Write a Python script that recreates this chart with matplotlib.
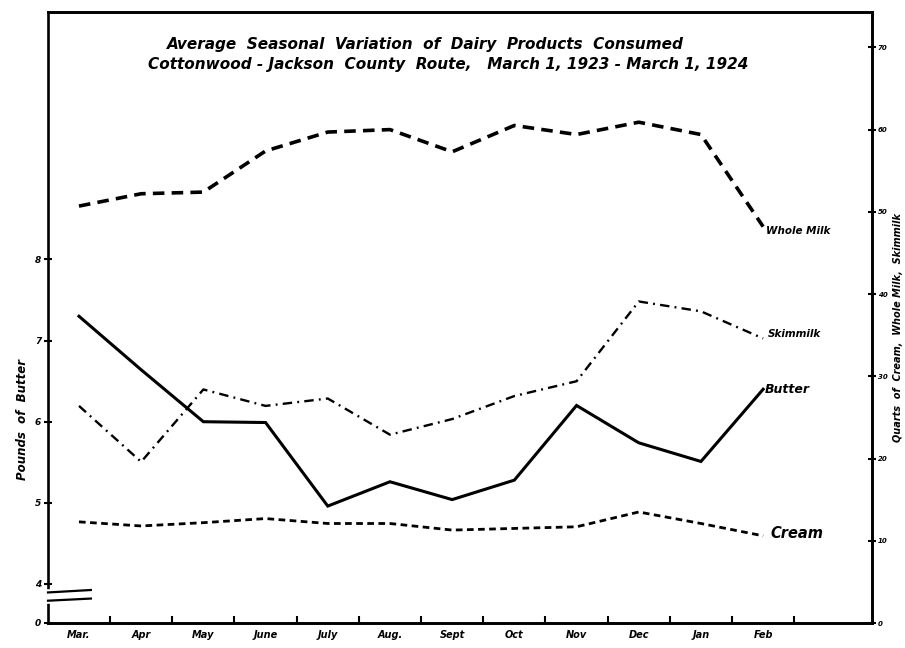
import matplotlib
matplotlib.use("Agg")
import matplotlib.pyplot as plt
import numpy as np

months = ["Mar.", "Apr", "May", "June", "July", "Aug.", "Sept", "Oct", "Nov", "Dec", "Jan", "Feb"]

# pounds of butter (left scale)
butter = [7.30, 6.64, 6.00, 5.99, 4.96, 5.26, 5.04, 5.28, 6.20, 5.74, 5.51, 6.40]
# quarts (right scale)
whole_milk = [50.7, 52.2, 52.4, 57.4, 59.7, 60.0, 57.3, 60.5, 59.4, 60.9, 59.4, 48.2]
skimmilk = [26.4, 19.6, 28.4, 26.4, 27.3, 22.9, 24.8, 27.6, 29.4, 39.1, 37.9, 34.6]
cream = [12.3, 11.8, 12.2, 12.7, 12.1, 12.1, 11.3, 11.5, 11.7, 13.5, 12.1, 10.6]

butter_ticks = [4, 5, 6, 7, 8]
quart_ticks = [0, 10, 20, 30, 40, 50, 60, 70]

plt.rcParams['font.family'] = ['DejaVu Sans']
hand = dict(fontweight='bold', fontstyle='italic')

W, H = 905, 648
fig = plt.figure(figsize=(W / 100, H / 100), dpi=100)
ax = fig.add_axes([48 / W, 25 / H, (872 - 48) / W, (636 - 25) / H])
ax2 = ax.twinx()

x = np.arange(len(months))

ax.plot(x, butter, color='black', lw=2.2, solid_joinstyle='miter')
ax2.plot(x, whole_milk, color='black', lw=2.6, dashes=(3.2, 2.0))
ax2.plot(x, skimmilk, color='black', lw=1.7, dashes=(4.0, 2.2, 0.8, 2.2))
ax2.plot(x, cream, color='black', lw=2.0, dashes=(2.4, 1.6))

ax.set_xlim(-0.498, 12.75)
ax.set_ylim(3.519, 11.05)
ax2.set_ylim(0.17, 74.3)

# month ticks between the months, names under each month
ax.set_xticks(x + 0.5)
ax.set_xticklabels([])
ax.set_xticks(x, minor=True)
ax.set_xticklabels(months, minor=True, fontsize=7, **hand)
ax.tick_params(axis='x', which='major', direction='in', length=5, width=1.5)
ax.tick_params(axis='x', which='minor', length=0, pad=5)

ax.set_yticks([3.519] + butter_ticks)
ax.set_yticklabels(["0"] + [str(t) for t in butter_ticks], fontsize=6.5, **hand)
ax.tick_params(axis='y', direction='inout', length=6, width=1.5, pad=2)

ax2.set_yticks(quart_ticks)
ax2.set_yticklabels([str(t) for t in quart_ticks], fontsize=5, **hand)
ax2.tick_params(axis='y', direction='inout', length=6, width=1.5, pad=1)

for a in (ax, ax2):
    for s in a.spines.values():
        s.set_linewidth(1.9)
ax2.spines['left'].set_visible(False)

# axis break on the left scale
ax.plot([0, 0], [0.0365, 0.05], transform=ax.transAxes, color='white', lw=4,
        clip_on=False, zorder=5)
ax.plot([0, 0.052], [0.05, 0.054], transform=ax.transAxes, color='black', lw=1.6,
        clip_on=False, zorder=6)
ax.plot([0, 0.052], [0.0365, 0.040], transform=ax.transAxes, color='black', lw=1.6,
        clip_on=False, zorder=6)

# series labels
ax2.text(11.05, whole_milk[-1] - 0.5, "Whole Milk", ha='left', va='center', fontsize=7.5, **hand)
ax2.text(11.08, skimmilk[-1] + 0.6, "Skimmilk", ha='left', va='center', fontsize=7.5, **hand)
ax.text(11.03, butter[-1], "Butter", ha='left', va='center', fontsize=9, **hand)
ax2.text(11.12, cream[-1] + 0.3, "Cream", ha='left', va='center', fontsize=10.5, **hand)

fig.text(425 / W, 1 - 45 / H, "Average  Seasonal  Variation  of  Dairy  Products  Consumed",
         ha='center', va='center', fontsize=11, **hand)
fig.text(448 / W, 1 - 64 / H, "Cottonwood - Jackson  County  Route,   March 1, 1923 - March 1, 1924",
         ha='center', va='center', fontsize=11, **hand)

fig.text(22 / W, 1 - 420 / H, "Pounds  of  Butter", rotation=90, ha='center', va='center',
         fontsize=8.5, **hand)
fig.text(898 / W, 1 - 328 / H, "Quarts  of  Cream,  Whole Milk,  Skimmilk", rotation=90,
         ha='center', va='center', fontsize=7, **hand)

fig.savefig("out.png", dpi=100)
